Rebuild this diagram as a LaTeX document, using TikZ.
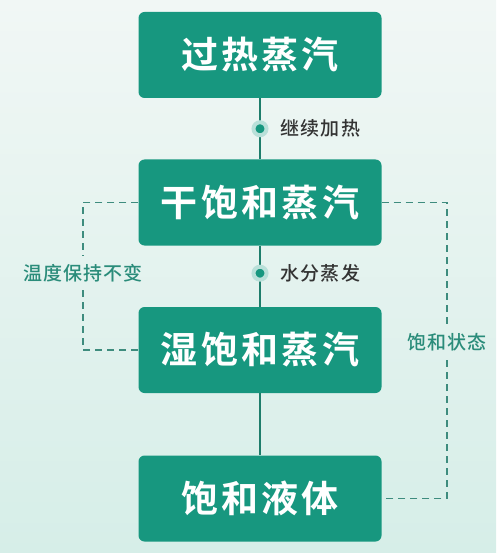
\documentclass[tikz,border=0pt]{standalone}
\usepackage{fontspec}
\usepackage{tikz}
\usetikzlibrary{positioning,calc}
\newfontfamily\cjkbold[LetterSpace=9]{Noto Sans CJK SC Bold}
\newfontfamily\cjkmid[LetterSpace=6]{Noto Sans CJK SC Medium}
\definecolor{boxteal}{HTML}{17977F}
\definecolor{lineteal}{HTML}{1E7D6B}
\definecolor{dashteal}{HTML}{3E8C7E}
\definecolor{labteal}{HTML}{2A8C7A}
\definecolor{bgtop}{HTML}{F1F7F5}
\definecolor{bgbot}{HTML}{D6EEE8}
\tikzset{
  statebox/.style={draw=none,fill=boxteal,rounded corners=6pt,minimum width=243pt,
    minimum height=86pt,inner sep=0pt,text=white,font=\cjkbold\fontsize{37}{40}\selectfont},
  flowline/.style={lineteal,line width=2pt},
  sideline/.style={dashteal,line width=1.4pt,dash pattern=on 7pt off 5pt},
  stepdot/.style={circle,fill=boxteal,inner sep=0pt,minimum size=13pt,
    draw=boxteal!30,line width=4pt},
  steplab/.style={text=black!80,font=\cjkmid\fontsize{19}{22}\selectfont,inner sep=0pt},
  sidelab/.style={text=labteal,font=\cjkmid\fontsize{19}{22}\selectfont,inner sep=0pt}
}
\begin{document}
\begin{tikzpicture}[x=1pt,y=-1pt]
  \shade[top color=bgtop,bottom color=bgbot] (0,0) rectangle (496,553);
  \useasboundingbox (0,0) rectangle (496,553);
  % 状态
  \node[statebox] (over) at (260,55) {过热蒸汽};
  \node[statebox] (dry) at (260,202.5) {干饱和蒸汽};
  \node[statebox] (wet) at (260,350) {湿饱和蒸汽};
  \node[statebox] (liq) at (260,498.5) {饱和液体};
  % 主线
  \draw[flowline] (over.south) -- (dry.north) node[pos=0.5,stepdot] (dotA) {};
  \node[steplab,right=12pt of dotA] (heat) {继续加热};
  \draw[flowline] (dry.south) -- (wet.north) node[pos=0.45,stepdot] (dotB) {};
  \node[steplab,right=12pt of dotB] (evap) {水分蒸发};
  \draw[flowline] (wet.south) -- (liq.north);
  % 虚线
  \node[sidelab] (keep) at (83,273) {温度保持不变};
  \draw[sideline] (dry.west) -| ($(keep.north)+(0,-8)$);
  \draw[sideline] ($(keep.south)+(0,8)$) |- (wet.west);
  \node[sidelab] (sat) at (447,342) {饱和状态};
  \draw[sideline] (dry.east) -| ($(sat.north)+(0,-9)$);
  \draw[sideline] ($(sat.south)+(0,9)$) |- (liq.east);
\end{tikzpicture}
\end{document}
